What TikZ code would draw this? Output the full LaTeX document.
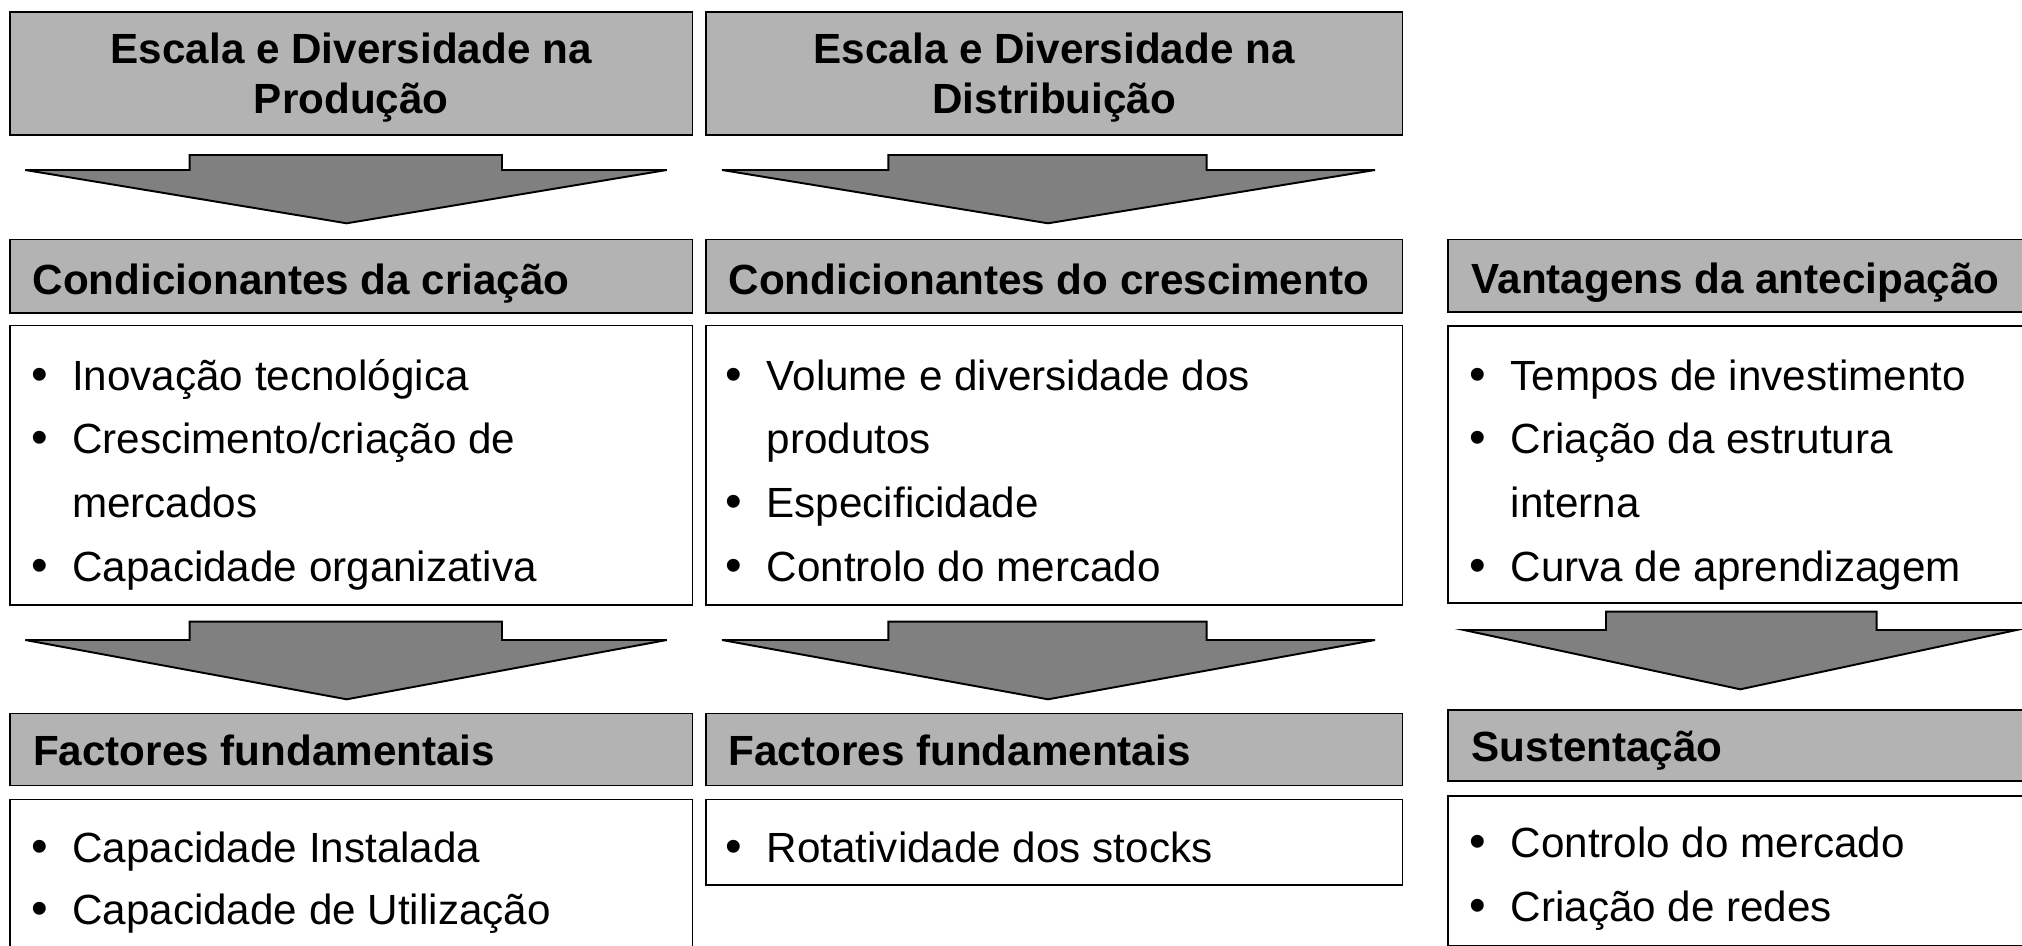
\documentclass[tikz,border=0pt]{standalone}
\usepackage{fontspec}
\setmainfont{Liberation Sans}
\usetikzlibrary{fit}
\definecolor{hdrgray}{RGB}{179,179,179}
\definecolor{arrgray}{RGB}{128,128,128}
\tikzset{
  hdrbox/.style={draw=black, fill=hdrgray, line width=0.55pt, inner sep=0pt},
  bodybox/.style={draw=black, fill=white, line width=0.55pt, inner sep=0pt},
  blockarrow/.style={draw=black, fill=arrgray, line width=0.55pt, line join=miter},
  hdrtext/.style={font=\fontsize{12}{14}\selectfont\bfseries, inner sep=0pt, text=black},
  bodytext/.style={font=\fontsize{12}{14}\selectfont, inner sep=0pt, anchor=base west},
  bullettext/.style={font=\fontsize{13.5}{14}\selectfont, inner sep=0pt, anchor=base},
}
\newcommand{\bitem}[5]{\node[bullettext] (#1b) at (#2,#4) {•}; \node[bodytext] (#1) at (#3,#4) {#5};}
\newcommand{\bcont}[4]{\node[bodytext] (#1) at (#2,#3) {#4};}
\newcommand{\blockarr}[8]{\draw[blockarrow] (#1,#7) -- (#2,#7) -- (#2,#6) -- (#3,#6) -- (#3,#7) -- (#4,#7) -- (#5,#8) -- cycle;}
\begin{document}
\begin{tikzpicture}[x=0.01cm, y=-0.01cm]
\useasboundingbox (0,0) rectangle (2022,945);
\clip (0,0) rectangle (2022,945);
\fill[white] (0,0) rectangle (2022,945);

% ---- title boxes
\node[hdrbox, fit={(10,11.7) (692.5,135)}] (t1) {};
\node[hdrbox, fit={(706,11.7) (1402.5,135)}] (t2) {};
\node[hdrtext, anchor=base] (t1a) at (351.25,63.3) {Escala e Diversidade na};
\node[hdrtext, anchor=base] (t1b) at (351.25,113.3) {Produção};
\node[hdrtext, anchor=base] (t2a) at (1054.25,63.3) {Escala e Diversidade na};
\node[hdrtext, anchor=base] (t2b) at (1054.25,113.3) {Distribuição};

% ---- arrows row 1
\blockarr{25.3}{189.6}{502}{666.8}{346.7}{155}{170}{223.3}
\blockarr{722}{888.4}{1206.6}{1375}{1048}{155}{170}{223.3}

% ---- headers row 2
\node[hdrbox, fit={(10,239.5) (692.5,313.3)}] (h1) {};
\node[hdrbox, fit={(706,239.5) (1402.5,313.3)}] (h2) {};
\node[hdrbox, fit={(1448,239.5) (2040,311.7)}] (h3) {};
\node[hdrtext, anchor=base west] (h1t) at (32,294) {Condicionantes da criação};
\node[hdrtext, anchor=base west] (h2t) at (728,294) {Condicionantes do crescimento};
\node[hdrtext, anchor=base west] (h3t) at (1471,293) {Vantagens da antecipação};

% ---- bodies row 2
\node[bodybox, fit={(10,325.5) (692.5,605)}] (b1) {};
\node[bodybox, fit={(706,325.5) (1402.5,605)}] (b2) {};
\node[bodybox, fit={(1448,325.7) (2040,603.3)}] (b3) {};
\bitem{b1i1}{40}{71.5}{390}{Inovação tecnológica}
\bitem{b1i2}{40}{71.5}{453}{Crescimento/criação de}
\bcont{b1i2c}{71.5}{517.5}{mercados}
\bitem{b1i3}{40}{71.5}{581.5}{Capacidade organizativa}
\bitem{b2i1}{734}{766}{390}{Volume e diversidade dos}
\bcont{b2i1c}{766}{453}{produtos}
\bitem{b2i2}{734}{766}{517.5}{Especificidade}
\bitem{b2i3}{734}{766}{581.5}{Controlo do mercado}
\bitem{b3i1}{1477.5}{1510}{390}{Tempos de investimento}
\bitem{b3i2}{1477.5}{1510}{453}{Criação da estrutura}
\bcont{b3i2c}{1510}{517}{interna}
\bitem{b3i3}{1477.5}{1510}{581}{Curva de aprendizagem}

% ---- arrows row 2
\blockarr{25.3}{189.6}{502}{666.8}{346.7}{621.7}{640}{699.3}
\blockarr{722}{888.4}{1206.6}{1375}{1048}{621.7}{640}{699.3}
\blockarr{1463.9}{1606}{1876.6}{2016.6}{1740.3}{611.7}{630}{689.3}

% ---- headers row 3
\node[hdrbox, fit={(10,713.5) (692.5,785.5)}] (f1) {};
\node[hdrbox, fit={(706,713.5) (1402.5,785.5)}] (f2) {};
\node[hdrbox, fit={(1448,710) (2040,781)}] (f3) {};
\node[hdrtext, anchor=base west] (f1t) at (32.5,765.5) {Factores fundamentais};
\node[hdrtext, anchor=base west] (f2t) at (728,765.5) {Factores fundamentais};
\node[hdrtext, anchor=base west] (f3t) at (1471,761) {Sustentação};

% ---- bodies row 3
\node[bodybox, fit={(10,799.5) (692.5,970)}] (g1) {};
\node[bodybox, fit={(706,799.5) (1402.5,885)}] (g2) {};
\node[bodybox, fit={(1448,795.7) (2040,946)}] (g3) {};
\bitem{g1i1}{40}{71.5}{862.5}{Capacidade Instalada}
\bitem{g1i2}{40}{71.5}{924}{Capacidade de Utilização}
\bitem{g2i1}{734}{766}{862}{Rotatividade dos stocks}
\bitem{g3i1}{1477.5}{1510}{857}{Controlo do mercado}
\bitem{g3i2}{1477.5}{1510}{921.5}{Criação de redes}
\end{tikzpicture}
\end{document}
